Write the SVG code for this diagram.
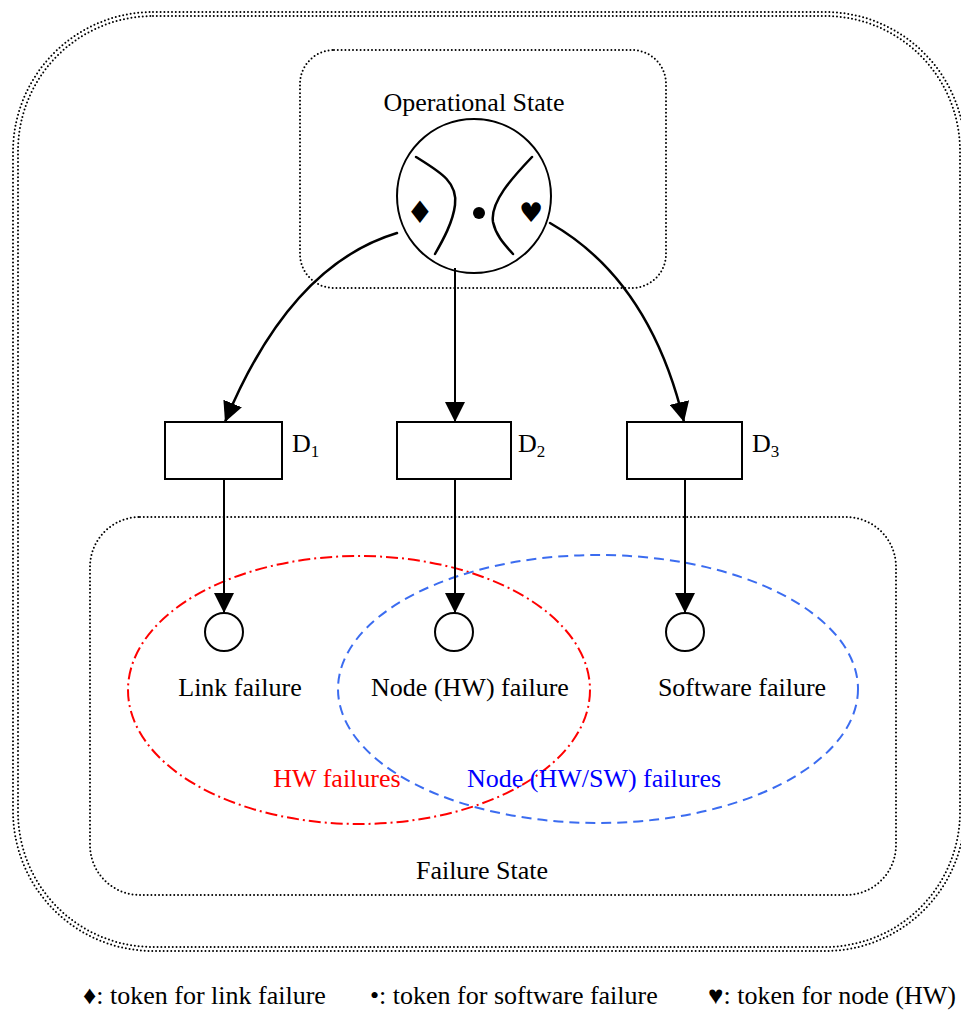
<svg xmlns="http://www.w3.org/2000/svg" width="961" height="1011" viewBox="0 0 961 1011">
<style>
  .lbl { font-family: "Liberation Serif", "Times New Roman", serif; font-size: 26px; fill: #000; }
  .leg { font-family: "Liberation Serif", "Times New Roman", serif; font-size: 26px; fill: #000; }
  .dot { fill: none; stroke: #000; stroke-width: 2; stroke-linecap: round; stroke-dasharray: 0 3.8; }
  .box { fill: #fff; stroke: #000; stroke-width: 2; }
  .arc { fill: none; stroke: #000; stroke-width: 2; }
  .vline { fill: none; stroke: #000; stroke-width: 2; }
  .curve { fill: none; stroke: #000; stroke-width: 2.5; stroke-linecap: round; }
  .sym { font-family: "DejaVu Sans", sans-serif; fill: #000; }
</style>
<defs>
  <marker id="ah" markerUnits="userSpaceOnUse" markerWidth="20" markerHeight="20" viewBox="0 0 20 20" refX="20" refY="10" orient="auto">
    <path d="M0,0 L20,10 L0,20 z" fill="#000"/>
  </marker>
</defs>
<rect width="961" height="1011" fill="#fff"/>

<g id="outer-boundary">
  <rect x="13" y="12" width="952" height="939" rx="140" ry="140" class="dot"/>
  <rect x="18" y="16" width="942" height="931" rx="135" ry="135" class="dot"/>
</g>

<g id="operational-state">
  <rect x="300" y="50" width="366" height="238" rx="34" ry="34" class="dot"/>
  <text x="474" y="111" text-anchor="middle" class="lbl">Operational State</text>
</g>

<g id="failure-state">
  <rect x="90" y="517" width="806" height="378" rx="50" ry="50" class="dot"/>
  <text x="482" y="879" text-anchor="middle" class="lbl">Failure State</text>
</g>

<g id="hw-failures">
  <ellipse cx="359" cy="690" rx="231" ry="134" fill="none" stroke="#ff0000" stroke-width="2" stroke-dasharray="12 4 2 4"/>
  <text x="337" y="787" text-anchor="middle" class="lbl" style="fill:#ff0000">HW failures</text>
</g>

<g id="node-failures">
  <ellipse cx="598" cy="689" rx="260" ry="134" fill="none" stroke="#3b6cf0" stroke-width="2" stroke-dasharray="10 6"/>
  <text x="594" y="787" text-anchor="middle" class="lbl" style="fill:#0000ff">Node (HW/SW) failures</text>
</g>

<g id="connectors">
  <path d="M397,233 Q290,265 225,422" class="curve" marker-end="url(#ah)"/>
  <path d="M455,268 L455,422" class="vline" marker-end="url(#ah)"/>
  <path d="M550,223 Q650,280 684,422" class="curve" marker-end="url(#ah)"/>
  <path d="M224,479 L224,613" class="vline" marker-end="url(#ah)"/>
  <path d="M455,479 L455,613" class="vline" marker-end="url(#ah)"/>
  <path d="M685,479 L685,613" class="vline" marker-end="url(#ah)"/>
</g>

<g id="operational-place">
  <circle cx="474" cy="196" r="77" class="arc"/>
  <path d="M416,157 C440,172 458,182 455,205 C453,222 443,240 435,254" class="curve"/>
  <path d="M532,157 C512,178 490,202 493,222 C496,236 505,245 513,254" class="curve"/>
  <text x="420" y="223" text-anchor="middle" class="sym" font-size="31">♦</text>
  <circle cx="479" cy="213" r="6" fill="#000"/>
  <text x="531" y="222" text-anchor="middle" class="sym" font-size="27">♥</text>
</g>

<g id="D1">
  <rect x="165" y="422" width="117" height="57" class="box"/>
  <text x="292" y="452" class="lbl">D<tspan font-size="17" dy="5">1</tspan></text>
</g>
<g id="D2">
  <rect x="397" y="422" width="114" height="57" class="box"/>
  <text x="518" y="452" class="lbl">D<tspan font-size="17" dy="5">2</tspan></text>
</g>
<g id="D3">
  <rect x="627" y="422" width="115" height="57" class="box"/>
  <text x="752" y="452" class="lbl">D<tspan font-size="17" dy="5">3</tspan></text>
</g>

<g id="link-failure">
  <circle cx="224" cy="632" r="19" class="box"/>
  <text x="240" y="696" text-anchor="middle" class="lbl">Link failure</text>
</g>
<g id="node-hw-failure">
  <circle cx="454" cy="632" r="19" class="box"/>
  <text x="470" y="696" text-anchor="middle" class="lbl">Node (HW) failure</text>
</g>
<g id="software-failure">
  <circle cx="685" cy="632" r="19" class="box"/>
  <text x="742" y="696" text-anchor="middle" class="lbl">Software failure</text>
</g>

<g id="legend">
  <text x="83" y="1004" class="leg">♦: token for link failure</text>
  <text x="370" y="1004" class="leg">•: token for software failure</text>
  <text x="708" y="1004" class="leg">♥: token for node (HW)</text>
</g>
</svg>
